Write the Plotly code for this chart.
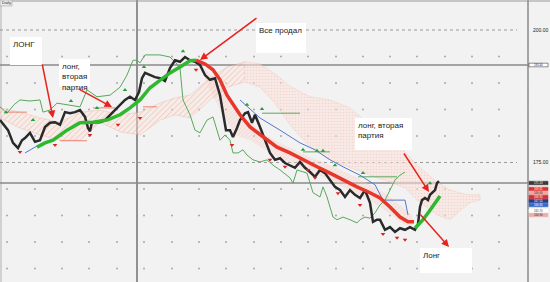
import plotly.graph_objects as go

# ---------------- data (prices) ----------------
price_x = [0, 4, 8, 13, 18, 22, 25, 30, 35, 40, 45, 50, 55, 60, 65, 70, 75, 80, 85, 88,
           90, 92, 100, 105, 110, 115, 120, 125, 130, 135, 139, 142, 145, 150, 155, 160, 165, 170, 175, 180,
           185, 190, 195, 200, 205, 210, 215, 220, 223, 226, 230, 233, 237, 240, 245, 248, 252, 255, 260, 265,
           270, 275, 280, 285, 290, 295, 300, 305, 310, 315, 320, 325, 330, 335, 340, 345, 350, 355, 360, 365,
           370, 373, 377, 380, 385, 390, 395, 400, 405, 410, 415, 418, 420, 422, 425, 428, 430, 432, 435, 437, 439]
price_y = [183.0, 182.1, 181.1, 178.7, 177.7, 179.2, 179.6, 180.6, 178.9, 179.2, 181.7, 182.5, 182.6, 182.1, 184.5, 184.3, 184.5, 184.9, 183.6, 181.5,
           180.9, 182.6, 182.6, 183.0, 184.0, 184.9, 185.9, 186.8, 187.4, 186.8, 188.3, 190.9, 191.9, 191.5, 191.1, 190.9, 190.4, 192.8, 194.3, 194.0,
           194.9, 194.3, 194.0, 193.4, 191.5, 190.6, 190.9, 187.7, 184.0, 181.1, 181.1, 179.8, 181.5, 183.0, 184.3, 184.5, 182.5, 184.0, 181.7, 179.2,
           176.8, 175.5, 175.8, 174.9, 174.5, 174.0, 175.1, 174.0, 173.2, 172.3, 173.6, 173.0, 171.7, 170.4, 169.8, 168.5, 169.8, 168.9, 168.3, 169.8,
           167.4, 163.8, 164.2, 164.2, 162.3, 162.8, 161.9, 162.6, 162.3, 162.8, 162.3, 163.4, 166.6, 167.9, 168.3, 167.9, 168.9, 169.3, 169.8, 171.1, 171.5]

chikou_x = [0, 7, 14, 20, 30, 40, 43, 50, 57, 67, 80, 87, 97, 110, 120, 127, 133, 137, 140, 145,
            160, 170, 176, 180, 183, 190, 195, 200, 207, 213, 220, 225, 230, 233, 238, 243, 247, 253, 260, 267,
            273, 280, 290, 293, 297, 307, 313, 320, 323, 327, 333, 337, 343, 350, 357, 360, 365, 370, 375, 380,
            385, 390, 395, 400, 405]
chikou_y = [185.5, 184.3, 185.9, 186.8, 186.6, 186.8, 184.5, 184.9, 186.2, 185.9, 185.5, 188.7, 187.4, 187.7, 189.2, 191.5, 194.3, 194.3, 193.8, 195.3,
            195.3, 194.9, 193.8, 192.8, 186.8, 184.0, 181.1, 180.6, 183.0, 183.6, 179.2, 180.2, 179.2, 176.8, 176.8, 177.4, 176.4, 175.5, 175.1, 175.5,
            174.5, 173.6, 172.1, 171.1, 173.6, 173.0, 169.3, 168.5, 170.4, 168.5, 164.7, 164.2, 164.7, 164.2, 163.6, 164.2, 164.7, 164.5, 165.5, 167.0,
            167.9, 169.8, 171.7, 172.6, 173.2]

up_x = [37, 45, 53, 67, 80, 93, 107, 120, 130, 140, 150, 160, 170, 180, 190, 196]
up_y = [177.9, 178.7, 179.2, 181.1, 182.5, 182.6, 183.0, 184.0, 185.3, 186.8, 189.1, 190.6, 191.9, 193.0, 194.2, 194.3]

down_x = [196, 205, 213, 220, 227, 233, 240, 250, 263, 277, 290, 303, 317, 330, 343, 357, 370, 380, 390, 400, 408, 414]
down_y = [194.3, 193.6, 192.5, 190.6, 187.7, 185.9, 184.0, 181.7, 179.8, 177.9, 176.8, 175.5, 174.2, 173.0, 171.7, 170.4, 169.3, 168.3, 166.6, 164.7, 163.8, 163.8]

up2_x = [415, 423, 430, 437, 440]
up2_y = [162.6, 164.2, 166.0, 167.9, 168.7]

cloud_x = [0, 20, 40, 60, 80, 100, 120, 140, 160, 175, 190, 210, 227, 245, 260, 275, 290, 310, 330, 350,
           370, 390, 405, 417, 437, 450, 463, 470, 480]
cloud_top = [185.3, 184.5, 183.4, 182.6, 184.5, 184.9, 184.0, 184.5, 186.2, 187.2, 187.7, 190.9, 193.0, 194.0, 193.6, 191.7, 189.4, 187.4, 186.8, 185.3,
             182.1, 179.2, 177.0, 174.5, 171.3, 169.8, 169.1, 168.9, 168.9]
cloud_bot = [183.4, 181.5, 180.2, 179.2, 179.2, 182.6, 180.8, 180.2, 183.0, 184.0, 183.4, 186.8, 189.2, 190.2, 189.2, 186.2, 182.1, 177.9, 175.5, 174.0,
             172.6, 171.3, 170.2, 167.9, 165.1, 164.2, 166.4, 167.4, 167.9]

band_x = [205, 220, 235, 250, 265, 280, 295, 310, 325, 340, 355, 370, 385, 400, 412]
band_top = [192.8, 189.6, 185.3, 182.6, 180.2, 178.7, 177.4, 176.0, 174.9, 173.6, 172.3, 170.8, 169.2, 167.0, 165.1]
band_bot = [190.6, 184.9, 180.2, 179.2, 177.4, 175.8, 174.5, 173.2, 172.1, 170.6, 169.2, 167.9, 166.0, 163.8, 162.6]

blue_x = [25, 35, 47, None, 240, 260, 280, 300, 315, 330, 345, 360, 375, 383, 395, 405, 408]
blue_y = [176.8, 177.9, 178.9, None, 186.8, 183.4, 181.1, 178.7, 177.4, 175.5, 174.0, 172.6, 170.8, 167.9, 167.9, 167.9, 165.1]

flat_green_x = [262, 300, None, 303, 330, None, 358, 397]
flat_green_y = [184.3, 184.3, None, 177.0, 177.0, None, 172.3, 172.3]

flat_red_x = [7, 27, None, 60, 87, None, 93, 115, None, 143, 157]
flat_red_y = [184.5, 184.5, None, 179.1, 179.1, None, 185.3, 185.3, None, 185.5, 185.5]

mark_up_x = [6, 33, 71, 97, 125, 144, 183, 247, 262, 303, 317, 323, 335, 363, 430]
mark_up_y = [184.5, 183.0, 186.6, 185.3, 188.7, 193.0, 196.0, 185.9, 185.1, 177.4, 177.2, 177.2, 174.5, 173.0, 171.1]
mark_dn_x = [20, 55, 90, 118, 140, 196, 232, 270, 285, 308, 315, 338, 360, 383, 397, 405]
mark_dn_y = [177.0, 178.3, 180.2, 182.1, 183.4, 192.5, 178.3, 175.5, 174.2, 173.6, 172.1, 169.2, 167.0, 161.5, 160.8, 160.4]

grid_x = [7, 35, 62, 89, 117, 144, 172, 199, 226, 254, 281, 308, 336, 363, 390, 417, 445, 472, 499, 528]
grid_levels = [195, 190, 185, 180, 170, 165, 160, 155]
dotted_levels = [200, 175]
solid_levels = [193.4, 171.13]
axis_labels = ["200.00", "175.00"]

Y_HI, Y_LO = 205.66, 152.45

# ---------------- figure ----------------
fig = go.Figure()

def poly(xs, top, bot):
    return list(xs) + list(xs)[::-1], list(top) + list(bot)[::-1]

gx, gy = [], []
for lv in grid_levels:
    for xx in grid_x:
        gx.append(xx); gy.append(lv)
fig.add_trace(go.Scatter(x=gx, y=gy, mode='markers', marker=dict(size=2, color='#a8a8a8'), hoverinfo='skip'))

k = cloud_x.index(245)
px_, py_ = poly(cloud_x[:k + 1], cloud_top[:k + 1], cloud_bot[:k + 1])
fig.add_trace(go.Scatter(x=px_, y=py_, mode='lines', line=dict(width=0.5, color='rgba(235,140,120,0.5)'),
                         fill='toself', fillcolor='rgba(250,222,214,0.45)',
                         fillpattern=dict(shape='/', fgcolor='rgba(228,100,80,0.65)', bgcolor='rgba(250,228,220,0.45)', size=4, solidity=0.22),
                         hoverinfo='skip'))
px_, py_ = poly(cloud_x[k:], cloud_top[k:], cloud_bot[k:])
fig.add_trace(go.Scatter(x=px_, y=py_, mode='lines', line=dict(width=0.5, color='rgba(240,170,150,0.5)'),
                         fill='toself', fillcolor='rgba(250,226,218,0.55)',
                         fillpattern=dict(shape='.', fgcolor='rgba(238,160,140,0.6)', bgcolor='rgba(250,228,220,0.55)', size=3, solidity=0.2),
                         hoverinfo='skip'))
px_, py_ = poly(band_x, band_top, band_bot)
fig.add_trace(go.Scatter(x=px_, y=py_, mode='lines', line=dict(width=0),
                         fill='toself', fillcolor='rgba(246,200,190,0.35)',
                         fillpattern=dict(shape='/', fgcolor='rgba(238,150,130,0.55)', bgcolor='rgba(248,212,204,0.35)', size=3, solidity=0.2),
                         hoverinfo='skip'))

fig.add_trace(go.Scatter(x=flat_red_x, y=flat_red_y, mode='lines', line=dict(width=1, color='#f08070'), hoverinfo='skip'))
fig.add_trace(go.Scatter(x=flat_green_x, y=flat_green_y, mode='lines', line=dict(width=1, color='#5aa85a'), hoverinfo='skip'))
fig.add_trace(go.Scatter(x=blue_x, y=blue_y, mode='lines', line=dict(width=1, color='#5577cc'), hoverinfo='skip'))
fig.add_trace(go.Scatter(x=chikou_x, y=chikou_y, mode='lines', line=dict(width=1, color='#59a85c'), hoverinfo='skip'))
fig.add_trace(go.Scatter(x=price_x, y=price_y, mode='lines', line=dict(width=2.5, color='#2a2a2a'), hoverinfo='skip'))
fig.add_trace(go.Scatter(x=up_x, y=up_y, mode='lines', line=dict(width=3.5, color='#2eb82e'), hoverinfo='skip'))
fig.add_trace(go.Scatter(x=down_x, y=down_y, mode='lines', line=dict(width=3.5, color='#e8362a'), hoverinfo='skip'))
fig.add_trace(go.Scatter(x=up2_x, y=up2_y, mode='lines', line=dict(width=3.5, color='#2eb82e'), hoverinfo='skip'))
fig.add_trace(go.Scatter(x=mark_up_x, y=mark_up_y, mode='markers', marker=dict(symbol='triangle-up', size=4, color='#22a040'), hoverinfo='skip'))
fig.add_trace(go.Scatter(x=mark_dn_x, y=mark_dn_y, mode='markers', marker=dict(symbol='triangle-down', size=4, color='#e02020'), hoverinfo='skip'))

H = 282.0
def py(y):
    return 1 - y / H

shapes = []
for lv in dotted_levels:
    shapes.append(dict(type='line', xref='x', yref='y', x0=0, x1=517, y0=lv, y1=lv,
                       line=dict(color='#9a9a9a', width=1, dash='dot'), layer='below'))
for lv in solid_levels:
    shapes.append(dict(type='line', xref='x', yref='y', x0=0, x1=528, y0=lv, y1=lv,
                       line=dict(color='#8a8a8a', width=1.5), layer='below'))
shapes.append(dict(type='line', xref='x', yref='paper', x0=137, x1=137, y0=0, y1=1,
                   line=dict(color='#707070', width=1.5), layer='below'))
shapes.append(dict(type='line', xref='x', yref='paper', x0=528, x1=528, y0=0, y1=1,
                   line=dict(color='#8a8a8a', width=1.5), layer='below'))
shapes.append(dict(type='line', xref='x', yref='paper', x0=0, x1=550, y0=py(1), y1=py(1),
                   line=dict(color='#9a9a9a', width=1), layer='below'))
shapes.append(dict(type='line', xref='x', yref='paper', x0=1, x1=1, y0=0, y1=1,
                   line=dict(color='#b0b0b0', width=1), layer='below'))

annotations = []
boxes = [
    (10, 37, 42, 65, "ЛОНГ"),
    (59, 59, 90, 87, "лонг,<br>вторая<br>партия"),
    (256, 23, 306, 53, "Все продал"),
    (355, 118, 412, 150, "лонг, вторая<br>партия"),
    (420, 248, 472, 273, "Лонг"),
]
for x0, y0, x1, y1, t in boxes:
    shapes.append(dict(type='rect', xref='x', yref='paper', x0=x0, x1=x1, y0=py(y1), y1=py(y0),
                       fillcolor='white', line=dict(width=0), layer='above'))
    annotations.append(dict(x=x0 + 1, y=py(y0 + 0.5), xref='x', yref='paper', text=t, showarrow=False,
                            xanchor='left', yanchor='top', align='left',
                            font=dict(family='Liberation Sans, Arial', size=8, color='#222')))

arrows = [((42, 63), (53, 118)), ((77, 88), (112, 107)), ((258, 17), (200, 60)),
          ((403, 152), (429, 192)), ((419, 213), (449, 247))]
for (tx, ty), (hx, hy) in arrows:
    annotations.append(dict(x=hx, y=py(hy), xref='x', yref='paper', ax=tx - hx, ay=ty - hy,
                            text='', showarrow=True, arrowhead=2, arrowsize=1, arrowwidth=1.5,
                            arrowcolor='#e8231e'))

for lv, t in zip(dotted_levels, axis_labels):
    annotations.append(dict(x=531, y=lv, xref='x', yref='y', text=t, showarrow=False, xanchor='left',
                            yanchor='middle', font=dict(family='Liberation Sans, Arial', size=5, color='#222')))
tags = [(65, 'white', '193.40', '#222', '#222'),
        (183, '#3a3a3a', '171.13', 'white', '#3a3a3a'),
        (189, '#e03030', '169.81', 'white', '#e03030'),
        (193, '#f0a8a0', '169.06', '#333', '#f0a8a0'),
        (197, '#d83030', '168.30', 'white', '#d83030'),
        (201, '#283c8c', '167.55', 'white', '#283c8c'),
        (205, '#3a68c8', '166.80', 'white', '#3a68c8'),
        (211, '#ffffff', '165.70', '#333', '#ffffff'),
        (215, '#e8b0a8', '164.90', '#333', '#e8b0a8')]
for yc, fc, t, tc, lc in tags:
    shapes.append(dict(type='rect', xref='x', yref='paper', x0=529, x1=548, y0=py(yc + 1.8), y1=py(yc - 1.8),
                       fillcolor=fc, line=dict(width=0.5, color=lc), layer='above'))
    annotations.append(dict(x=538.5, y=py(yc), xref='x', yref='paper', text=t, showarrow=False,
                            xanchor='center', yanchor='middle', borderpad=0,
                            font=dict(family='Liberation Sans, Arial', size=2.8, color=tc)))

shapes.append(dict(type='rect', xref='x', yref='paper', x0=0, x1=12, y0=py(6), y1=py(0),
                   fillcolor='#e8e8e8', line=dict(width=0.5, color='#999'), layer='above'))
annotations.append(dict(x=1, y=py(3), xref='x', yref='paper', text='Daily', showarrow=False, borderpad=0,
                        xanchor='left', yanchor='middle', font=dict(family='Liberation Sans, Arial', size=4, color='#333')))

fig.update_layout(
    width=550, height=282, margin=dict(l=0, r=0, t=0, b=0),
    paper_bgcolor='#f2f2f2', plot_bgcolor='#f2f2f2', showlegend=False,
    xaxis=dict(range=[0, 550], visible=False, fixedrange=True),
    yaxis=dict(range=[Y_LO, Y_HI], visible=False, fixedrange=True),
    shapes=shapes, annotations=annotations,
)

fig.write_html("out.html", config={'displayModeBar': False})
